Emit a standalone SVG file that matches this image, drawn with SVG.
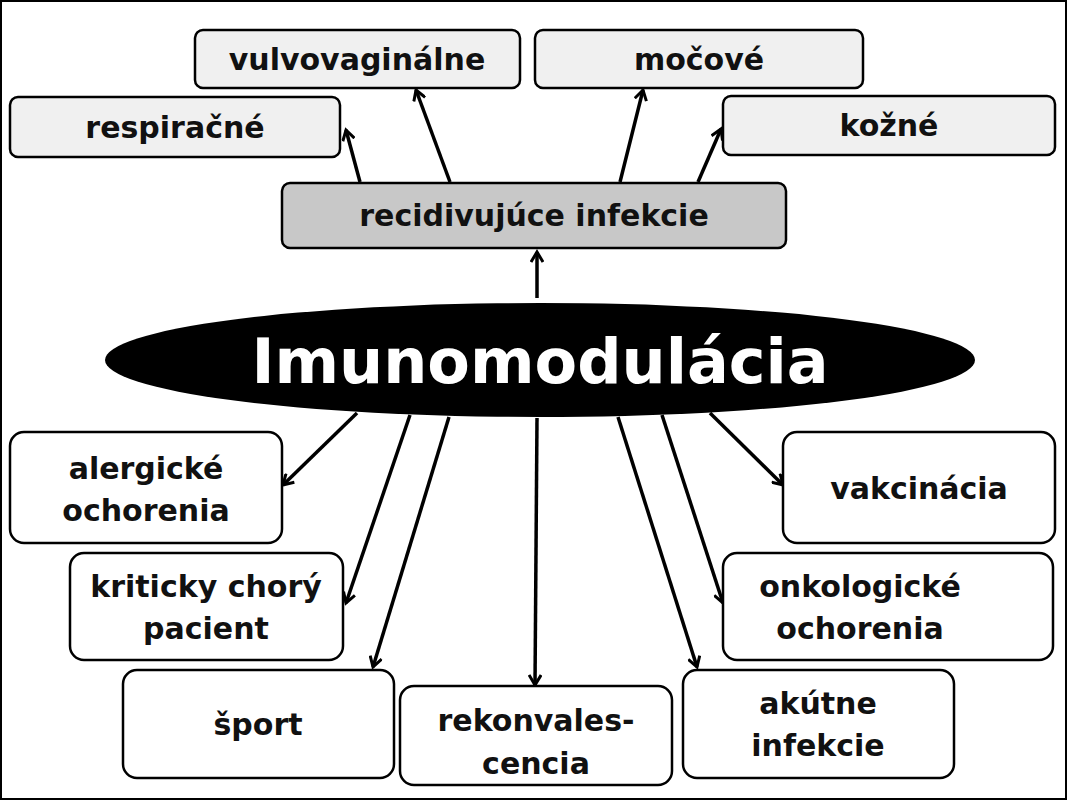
<svg xmlns="http://www.w3.org/2000/svg" width="1067" height="800" viewBox="0 0 1067 800">
<defs>
<marker id="ah" markerWidth="14" markerHeight="14" refX="11" refY="7" orient="auto" markerUnits="userSpaceOnUse"><path d="M1,1 L11,7 L1,13" fill="none" stroke="#000" stroke-width="3"/></marker>
</defs>
<style>
.b{fill:#fff;stroke:#000;stroke-width:2.5}
.g{fill:#f0f0f0;stroke:#000;stroke-width:2.5}
.t{font-family:"DejaVu Sans",sans-serif;font-weight:bold;font-size:30px;fill:#111;text-anchor:middle}
.c line{stroke:#000;stroke-width:3.5;marker-end:url(#ah)}
</style>
<rect x="1" y="1" width="1065" height="798" fill="#fff" stroke="#000" stroke-width="2"/>
<g class="c">
<line x1="537" y1="298" x2="537" y2="252"/>
<line x1="360" y1="182" x2="346" y2="130"/>
<line x1="450" y1="182" x2="416" y2="90"/>
<line x1="620" y1="182" x2="643" y2="90"/>
<line x1="698" y1="182" x2="721" y2="129"/>
<line x1="357" y1="413" x2="283" y2="485"/>
<line x1="410" y1="415" x2="346" y2="603"/>
<line x1="449" y1="417" x2="373" y2="667"/>
<line x1="537" y1="418" x2="535" y2="685"/>
<line x1="618" y1="417" x2="697" y2="667"/>
<line x1="662" y1="415" x2="723" y2="603"/>
<line x1="710" y1="413" x2="783" y2="485"/>
</g>
<g id="center"><ellipse cx="540" cy="360" rx="435" ry="57" fill="#000"/><text x="540" y="383" class="t" style="font-size:62px;fill:#fff">Imunomodulácia</text></g>
<g id="recid"><rect x="282" y="183" width="504" height="65" rx="8" fill="#c8c8c8" stroke="#000" stroke-width="2.5"/><text x="534" y="226" class="t">recidivujúce infekcie</text></g>
<g id="vulvo"><rect x="195" y="30" width="325" height="58" rx="8" class="g"/><text x="357" y="70" class="t">vulvovaginálne</text></g>
<g id="mocove"><rect x="535" y="30" width="328" height="58" rx="8" class="g"/><text x="699" y="70" class="t">močové</text></g>
<g id="resp"><rect x="10" y="97" width="330" height="60" rx="8" class="g"/><text x="175" y="138" class="t">respiračné</text></g>
<g id="kozne"><rect x="723" y="96" width="332" height="59" rx="8" class="g"/><text x="889" y="136" class="t">kožné</text></g>
<g id="alerg"><rect x="10" y="432" width="272" height="111" rx="14" class="b"/><text x="146" y="479" class="t">alergické</text><text x="146" y="521" class="t">ochorenia</text></g>
<g id="vakc"><rect x="783" y="432" width="272" height="111" rx="14" class="b"/><text x="919" y="499" class="t">vakcinácia</text></g>
<g id="krit"><rect x="70" y="553" width="273" height="107" rx="14" class="b"/><text x="206" y="597" class="t">kriticky chorý</text><text x="206" y="639" class="t">pacient</text></g>
<g id="onko"><rect x="723" y="553" width="330" height="107" rx="14" class="b"/><text x="860" y="597" class="t">onkologické</text><text x="860" y="639" class="t">ochorenia</text></g>
<g id="sport"><rect x="123" y="670" width="271" height="108" rx="14" class="b"/><text x="258" y="735" class="t">šport</text></g>
<g id="rekon"><rect x="400" y="686" width="272" height="99" rx="14" class="b"/><text x="536" y="731" class="t">rekonvales-</text><text x="536" y="774" class="t">cencia</text></g>
<g id="akut"><rect x="683" y="670" width="271" height="108" rx="14" class="b"/><text x="818" y="714" class="t">akútne</text><text x="818" y="756" class="t">infekcie</text></g>
</svg>
